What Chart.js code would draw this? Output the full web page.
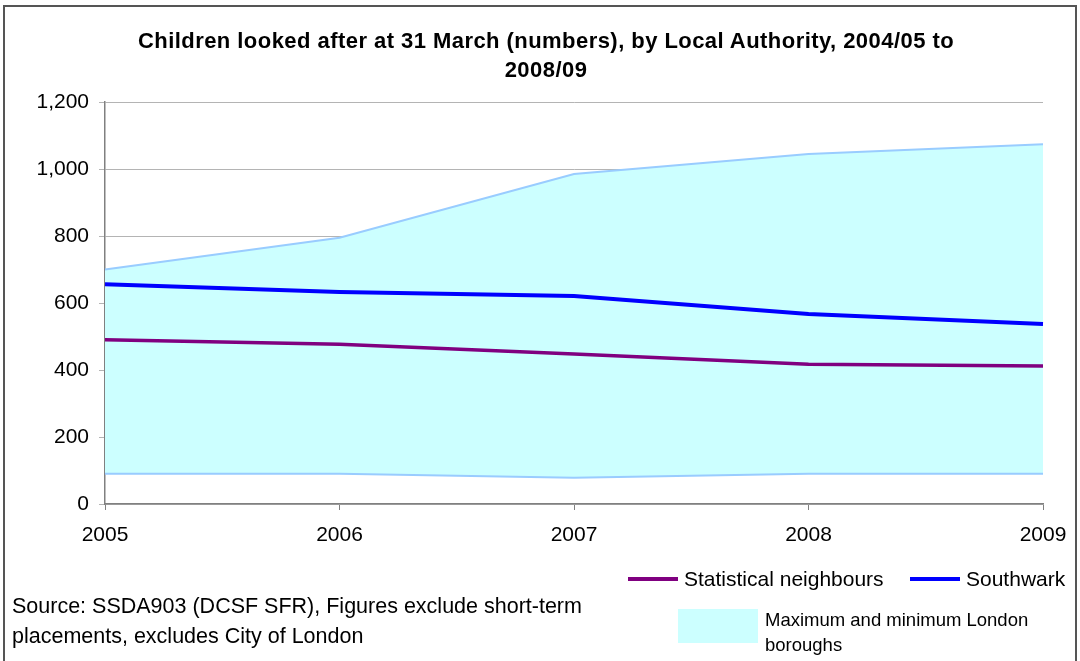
<!DOCTYPE html>
<html>
<head>
<meta charset="utf-8">
<script src="https://cdn.jsdelivr.net/npm/chart.js@4/dist/chart.umd.min.js"></script>
<style>
  body { margin: 0; background: #fff; font-family: "Liberation Sans", Arial, sans-serif; }
  #wrap { position: relative; width: 1080px; height: 661px; overflow: hidden; }
  #frame { position: absolute; left: 3px; top: 5px; width: 1070px; height: 680px; border: 2px solid #555; }
  canvas { position: absolute; left: 0; top: 0; }
  .txt { position: absolute; color: #000; white-space: nowrap; }
  .swatch { position: absolute; }
  #title { position: absolute; left: 0; top: 26px; width: 1092px; text-align: center; font-size: 22px; font-weight: bold; line-height: 29px; letter-spacing: 0.45px; }
</style>
</head>
<body>
<div id="wrap">
  <div id="frame"></div>
  <canvas id="myChart" width="1080" height="661"></canvas>
  <div id="title">Children looked after at 31 March (numbers), by Local Authority, 2004/05 to<br>2008/09</div>
  <div class="txt" style="left:12px;top:591px;font-size:21.5px;line-height:30px;">Source: SSDA903 (DCSF SFR), Figures exclude short-term<br>placements, excludes City of London</div>
  <div class="swatch" style="left:628px;top:577px;width:50px;height:4px;background:#800080;"></div>
  <div class="txt" style="left:684px;top:566px;font-size:21px;line-height:26px;">Statistical neighbours</div>
  <div class="swatch" style="left:910px;top:577px;width:50px;height:4px;background:#0000ff;"></div>
  <div class="txt" style="left:966px;top:566px;font-size:21px;line-height:26px;">Southwark</div>
  <div class="swatch" style="left:678px;top:609px;width:80px;height:34px;background:#ccffff;"></div>
  <div class="txt" style="left:765px;top:607px;font-size:18.5px;line-height:25px;">Maximum and minimum London<br>boroughs</div>
</div>
<script>
const years = ["2005", "2006", "2007", "2008", "2009"];
const southwark = [656, 633, 621, 567, 537];
const statNeighbours = [490, 477, 448, 417, 412];
const londonMax = [700, 795, 985, 1045, 1074];
const londonMin = [90, 90, 78, 90, 90];
const yTicks = [0, 200, 400, 600, 800, 1000, 1200];

const ctx = document.getElementById("myChart").getContext("2d");

new Chart(ctx, {
  type: "line",
  data: {
    labels: years,
    datasets: [
      {
        label: "Statistical neighbours",
        data: statNeighbours,
        borderColor: "#800080",
        borderWidth: 3.5,
        pointRadius: 0,
        fill: false,
        order: 0,
      },
      {
        label: "Southwark",
        data: southwark,
        borderColor: "#0000ff",
        borderWidth: 4,
        pointRadius: 0,
        fill: false,
        order: 0,
      },
      {
        label: "Maximum London boroughs",
        data: londonMax,
        borderColor: "#99ccff",
        borderWidth: 2,
        backgroundColor: "#ccffff",
        pointRadius: 0,
        fill: "+1",
        order: 2,
      },
      {
        label: "Minimum London boroughs",
        data: londonMin,
        borderColor: "#99ccff",
        borderWidth: 2,
        pointRadius: 0,
        fill: false,
        order: 1,
      },
    ],
  },
  options: {
    responsive: false,
    animation: false,
    layout: { padding: { left: 0, right: 37, top: 102, bottom: 117 } },
    plugins: {
      legend: { display: false },
      tooltip: { enabled: false },
      title: { display: false },
    },
    scales: {
      x: {
        type: "category",
        offset: false,
        afterFit: (scale) => { scale.height = 40; },
        grid: { drawOnChartArea: false, drawTicks: true, tickLength: 6, color: "#808080" },
        border: { color: "#808080", width: 1.5 },
        ticks: {
          color: "#000",
          font: { family: "'Liberation Sans', Arial", size: 21 },
          padding: 13,
          maxRotation: 0,
        },
      },
      y: {
        min: 0,
        max: 1200,
        afterFit: (scale) => { scale.width = 105; },
        afterBuildTicks: (scale) => { scale.ticks = yTicks.map((v) => ({ value: v })); },
        grid: { color: "#b4b4b4", lineWidth: 1, tickLength: 6 },
        border: { color: "#808080", width: 1.5 },
        ticks: {
          color: "#000",
          font: { family: "'Liberation Sans', Arial", size: 21 },
          padding: 10,
          callback: (v) => v.toLocaleString("en-GB"),
        },
      },
    },
  },
});
</script>
</body>
</html>
